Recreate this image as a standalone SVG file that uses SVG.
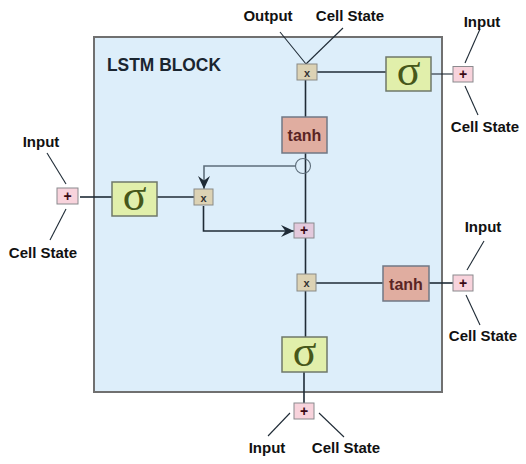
<svg xmlns="http://www.w3.org/2000/svg" width="526" height="464" viewBox="0 0 526 464">
<defs>
<marker id="arr" viewBox="0 0 13 12" refX="13" refY="6" markerWidth="13" markerHeight="12" markerUnits="userSpaceOnUse" orient="auto">
<path d="M0,0 L13,6 L0,12 L4.5,6 Z" fill="#1f2b36"/>
</marker>
<style>
.lbl{font-family:"Liberation Sans",Arial,sans-serif;font-weight:bold;font-size:15px;fill:#111;text-anchor:middle}
.sig rect{fill:#e1efab;stroke:#6f786a;stroke-width:1.5}
.sig text{font-family:"Liberation Serif","DejaVu Serif",serif;font-size:44px;fill:#46571a;text-anchor:middle}
.tanh rect{fill:#e0ada0;stroke:#707885;stroke-width:1.5}
.tanh text{font-family:"Liberation Sans",Arial,sans-serif;font-weight:bold;font-size:16px;fill:#5a2424;text-anchor:middle}
.mul rect{fill:#dcd2b4;stroke:#8a8a86;stroke-width:1}
.mul text{font-family:"Liberation Sans",Arial,sans-serif;font-weight:bold;font-size:11px;fill:#333;text-anchor:middle}
.add rect{fill:#f8d3dc;stroke:#8a8a8e;stroke-width:1}
.add text{font-family:"Liberation Sans",Arial,sans-serif;font-weight:bold;font-size:14px;fill:#3a0a14;text-anchor:middle}
.ln{stroke:#1f2b36;stroke-width:1.6;fill:none}
.thin{stroke:#1f2b36;stroke-width:1.1;fill:none}
.fb{stroke:#5e6e7b;stroke-width:1.6;fill:none}
</style>
</defs>
<rect width="526" height="464" fill="#ffffff"/>
<g id="block">
<rect x="94" y="37" width="348" height="355" fill="#ddeefa" stroke="#707070" stroke-width="2"/>
<text x="107" y="71" font-family="Liberation Sans,Arial,sans-serif" font-weight="bold" font-size="19" textLength="114" lengthAdjust="spacingAndGlyphs" fill="#1a2530">LSTM BLOCK</text>
</g>
<g id="connectors">
<line class="thin" x1="280" y1="32" x2="306" y2="64"/>
<line class="thin" x1="343" y1="28" x2="306" y2="64"/>
<line class="ln" x1="317" y1="72" x2="386" y2="72"/>
<line class="thin" x1="431" y1="74" x2="453" y2="74"/>
<line class="thin" x1="480" y1="29" x2="465" y2="63"/>
<line class="thin" x1="465" y1="86" x2="478" y2="115"/>
<line class="ln" x1="305.5" y1="80" x2="305.5" y2="117"/>
<line class="ln" x1="305.5" y1="153" x2="305.5" y2="223"/>
<line class="ln" x1="305.5" y1="238" x2="305.5" y2="274"/>
<line class="ln" x1="305.5" y1="291" x2="305.5" y2="337"/>
<line class="ln" x1="304" y1="372" x2="304" y2="403"/>
<circle cx="303" cy="166" r="7.5" fill="none" stroke="#5e6e7b" stroke-width="1.1"/>
<path class="fb" d="M295.5,166 H204 V189" marker-end="url(#arr)"/>
<path class="ln" d="M203.5,206 V231 H294" marker-end="url(#arr)"/>
<line class="thin" x1="47" y1="153" x2="66" y2="184"/>
<line class="thin" x1="66" y1="209" x2="50" y2="240"/>
<line class="ln" x1="80" y1="197" x2="112" y2="197"/>
<line class="ln" x1="157" y1="197" x2="194" y2="197"/>
<line class="ln" x1="316" y1="283" x2="383" y2="283"/>
<line class="ln" x1="429" y1="283" x2="453" y2="283"/>
<line class="thin" x1="484" y1="241" x2="467" y2="270"/>
<line class="thin" x1="466" y1="295" x2="480" y2="325"/>
<line class="thin" x1="290" y1="413" x2="268" y2="436"/>
<line class="thin" x1="319" y1="413" x2="344" y2="437"/>
</g>
<g id="mul-top" class="mul"><rect x="297" y="64" width="20" height="16"/><text x="307" y="76.5">x</text></g>
<g id="sig-top" class="sig"><rect x="386" y="57" width="45" height="34"/><text x="408.5" y="85">σ</text></g>
<g id="add-top-right" class="add"><rect x="453" y="66.5" width="20" height="15.5"/><text x="463" y="79">+</text></g>
<g id="tanh-top" class="tanh"><rect x="282" y="117" width="45" height="36"/><text x="304.5" y="141">tanh</text></g>
<g id="add-left" class="add"><rect x="57" y="188" width="21" height="16"/><text x="67.5" y="200.5">+</text></g>
<g id="sig-left" class="sig"><rect x="112" y="182" width="45" height="34"/><text x="134.5" y="210">σ</text></g>
<g id="mul-mid" class="mul"><rect x="194" y="189" width="19" height="16"/><text x="203.5" y="201.5">x</text></g>
<g id="add-mid" class="add"><rect x="294" y="223" width="20" height="15" style="fill:#e3c9dc"/><text x="304" y="235">+</text></g>
<g id="mul-low" class="mul"><rect x="297" y="274" width="19" height="17"/><text x="306.5" y="287">x</text></g>
<g id="tanh-right" class="tanh"><rect x="383" y="266" width="46" height="35"/><text x="406" y="289.5">tanh</text></g>
<g id="add-right" class="add"><rect x="453" y="275" width="20" height="16"/><text x="463" y="287.5">+</text></g>
<g id="sig-bottom" class="sig"><rect x="282" y="337" width="45" height="35"/><text x="304.5" y="365.5">σ</text></g>
<g id="add-bottom" class="add"><rect x="294" y="403" width="20" height="16"/><text x="304" y="415.5">+</text></g>
<g id="labels">
<text class="lbl" x="268" y="21">Output</text>
<text class="lbl" x="350" y="21">Cell State</text>
<text class="lbl" x="482" y="27">Input</text>
<text class="lbl" x="485" y="132">Cell State</text>
<text class="lbl" x="41" y="147">Input</text>
<text class="lbl" x="43" y="258">Cell State</text>
<text class="lbl" x="483" y="232">Input</text>
<text class="lbl" x="483" y="341">Cell State</text>
<text class="lbl" x="267" y="453">Input</text>
<text class="lbl" x="346" y="453">Cell State</text>
</g>
</svg>
